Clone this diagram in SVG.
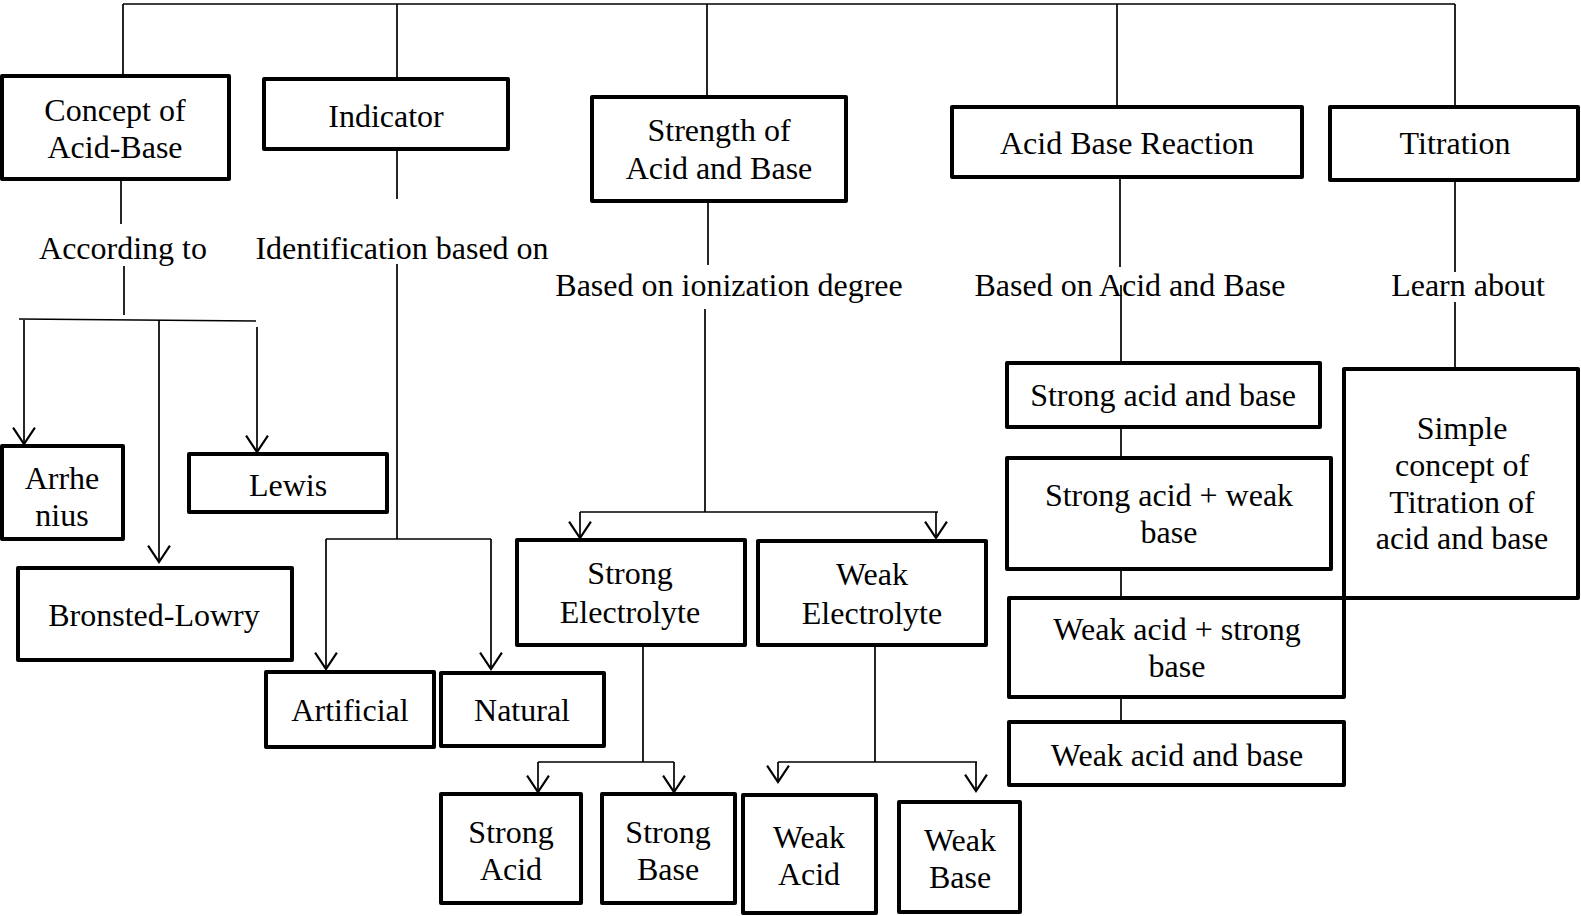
<svg xmlns="http://www.w3.org/2000/svg" width="1581" height="916" viewBox="0 0 1581 916">
<style>
.box{fill:#fff;stroke:#000;stroke-width:4;stroke-linejoin:round}
.t{font-family:"Liberation Serif","Times New Roman",serif;font-size:32px;fill:#000;text-anchor:middle}
.c{fill:none;stroke:#000;stroke-width:1.7}
.a{fill:none;stroke:#000;stroke-width:1.7;marker-end:url(#arr)}
</style>
<defs>
<marker id="arr" markerUnits="userSpaceOnUse" markerWidth="20" markerHeight="24" viewBox="-16 -11 18 22" refX="0" refY="0" orient="auto">
<path d="M-15,-10 L0,0 L-15,10" fill="none" stroke="#000" stroke-width="2"/>
</marker>
</defs>
<rect width="1581" height="916" fill="#fff"/>
<g id="connectors">
<path class="c" d="M123,4 H1455 M123,4 V76 M397,4 V79 M707,4 V97 M1117,4 V107 M1455,4 V107"/>
<path class="c" d="M121,175 V224 M124,266 V315 M19,319 L256,321"/>
<path class="a" d="M24,320 V444"/>
<path class="a" d="M159,320 V562"/>
<path class="a" d="M257,327 V452"/>
<path class="c" d="M397,149 V199 M397,264 V539 M326,539 H491"/>
<path class="a" d="M326,539 V669"/>
<path class="a" d="M491,539 V669"/>
<path class="c" d="M708,201 V265 M705,309 V512 M580,512 H938"/>
<path class="a" d="M580,512 V538"/>
<path class="a" d="M936,512 V538"/>
<path class="c" d="M643,645 V762 M538,762 H674"/>
<path class="a" d="M538,762 V792"/>
<path class="a" d="M674,762 V792"/>
<path class="c" d="M875,645 V762 M778,762 H977"/>
<path class="a" d="M778,762 V782"/>
<path class="a" d="M976,762 V791"/>
<path class="c" d="M1120,177 V267 M1121,285 V363 M1121,427 V458 M1121,565 V598 M1121,697 V727"/>
<path class="c" d="M1455,180 V272 M1455,302 V369"/>
</g>
<g id="lbl-according"><text class="t" x="123" y="259">According to</text></g>
<g id="lbl-identification"><text class="t" x="402" y="259">Identification based on</text></g>
<g id="lbl-ionization"><text class="t" x="729" y="296">Based on ionization degree</text></g>
<g id="lbl-acidbase"><text class="t" x="1130" y="296">Based on Acid and Base</text></g>
<g id="lbl-learn"><text class="t" x="1468" y="296">Learn about</text></g>
<g id="concept"><rect class="box" x="2" y="76" width="227" height="103"/><text class="t" x="115" y="121">Concept of</text><text class="t" x="115" y="158">Acid-Base</text></g>
<g id="indicator"><rect class="box" x="264" y="79" width="244" height="70"/><text class="t" x="386" y="127">Indicator</text></g>
<g id="strength"><rect class="box" x="592" y="97" width="254" height="104"/><text class="t" x="719" y="141">Strength of</text><text class="t" x="719" y="179">Acid and Base</text></g>
<g id="reaction"><rect class="box" x="952" y="107" width="350" height="70"/><text class="t" x="1127" y="154">Acid Base Reaction</text></g>
<g id="titration"><rect class="box" x="1330" y="107" width="248" height="73"/><text class="t" x="1455" y="154">Titration</text></g>
<g id="arrhenius"><rect class="box" x="2" y="446" width="121" height="93"/><text class="t" x="62" y="489">Arrhe</text><text class="t" x="62" y="526">nius</text></g>
<g id="lewis"><rect class="box" x="189" y="454" width="198" height="58"/><text class="t" x="288" y="496">Lewis</text></g>
<g id="bronsted"><rect class="box" x="18" y="568" width="274" height="92"/><text class="t" x="154" y="626">Bronsted-Lowry</text></g>
<g id="artificial"><rect class="box" x="266" y="672" width="168" height="75"/><text class="t" x="350" y="721">Artificial</text></g>
<g id="natural"><rect class="box" x="441" y="673" width="163" height="73"/><text class="t" x="522" y="721">Natural</text></g>
<g id="strong-electrolyte"><rect class="box" x="517" y="540" width="228" height="105"/><text class="t" x="630" y="584">Strong</text><text class="t" x="630" y="623">Electrolyte</text></g>
<g id="weak-electrolyte"><rect class="box" x="758" y="541" width="228" height="104"/><text class="t" x="872" y="585">Weak</text><text class="t" x="872" y="624">Electrolyte</text></g>
<g id="strong-acid"><rect class="box" x="441" y="794" width="140" height="109"/><text class="t" x="511" y="843">Strong</text><text class="t" x="511" y="880">Acid</text></g>
<g id="strong-base"><rect class="box" x="602" y="794" width="133" height="109"/><text class="t" x="668" y="843">Strong</text><text class="t" x="668" y="880">Base</text></g>
<g id="weak-acid"><rect class="box" x="743" y="795" width="133" height="118"/><text class="t" x="809" y="848">Weak</text><text class="t" x="809" y="885">Acid</text></g>
<g id="weak-base"><rect class="box" x="899" y="802" width="121" height="110"/><text class="t" x="960" y="851">Weak</text><text class="t" x="960" y="888">Base</text></g>
<g id="sab"><rect class="box" x="1007" y="363" width="313" height="64"/><text class="t" x="1163" y="406">Strong acid and base</text></g>
<g id="sawb"><rect class="box" x="1007" y="458" width="324" height="111"/><text class="t" x="1169" y="506">Strong acid + weak</text><text class="t" x="1169" y="543">base</text></g>
<g id="simple"><rect class="box" x="1344" y="369" width="234" height="229"/><text class="t" x="1462" y="439">Simple</text><text class="t" x="1462" y="476">concept of</text><text class="t" x="1462" y="513">Titration of</text><text class="t" x="1462" y="549">acid and base</text></g>
<g id="wasb"><rect class="box" x="1009" y="598" width="335" height="99"/><text class="t" x="1177" y="640">Weak acid + strong</text><text class="t" x="1177" y="677">base</text></g>
<g id="wab"><rect class="box" x="1009" y="722" width="335" height="63"/><text class="t" x="1177" y="766">Weak acid and base</text></g>
</svg>
